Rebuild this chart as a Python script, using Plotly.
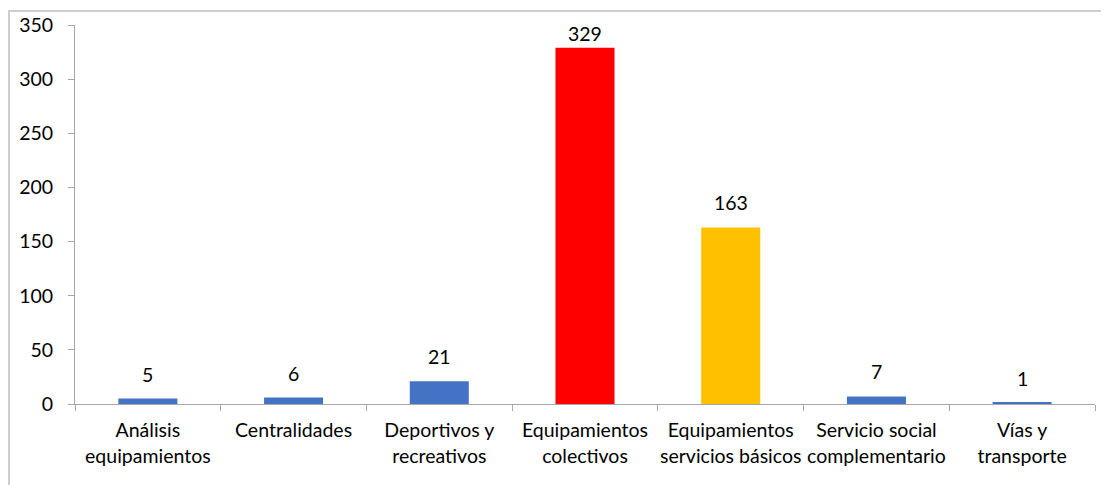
import plotly.graph_objects as go

categories = ["Análisis<br>equipamientos", "Centralidades", "Deportivos y<br>recreativos",
              "Equipamientos<br>colectivos", "Equipamientos<br>servicios básicos",
              "Servicio social<br>complementario", "Vías y<br>transporte"]
values = [5, 6, 21, 329, 163, 7, 1]
colors = ["#4472C4", "#4472C4", "#4472C4", "#FF0000", "#FFC000", "#4472C4", "#4472C4"]

OFF = 8  # browser body margin
W, H = 1109 - OFF, 485 - OFF
# absolute plot area in the window
PX0, PX1, PY0, PY1 = 75, 1095, 25, 404
pw, ph = PX1 - PX0, PY1 - PY0
L, T = PX0 - OFF, PY0 - OFF
R = W - (PX1 - OFF)
B = H - (PY1 - OFF)
YMAX = 350
FONT = "Lato, Liberation Sans, Arial, sans-serif"
FS = 19.5

fig = go.Figure(go.Bar(
    x=categories, y=values, marker=dict(color=colors, line=dict(width=0)),
    width=0.405, hoverinfo="x+y",
))

annotations = []
for c, v in zip(categories, values):
    top_px = PY1 - v / YMAX * ph
    shift = max(0, min(11, top_px - PY0 - 22))
    annotations.append(dict(x=c, y=v, text=str(v), showarrow=False, yanchor="bottom",
                            yshift=shift, font=dict(family=FONT, size=FS, color="#000000")))

fig.update_layout(
    width=W, height=H, margin=dict(l=L, r=R, t=T, b=B, autoexpand=False),
    paper_bgcolor="white", plot_bgcolor="white",
    font=dict(family=FONT, size=FS, color="#000000"),
    showlegend=False,
    annotations=annotations,
    xaxis=dict(showline=True, linecolor="#A6A6A6", linewidth=1, ticks="outside",
               tickson="boundaries", ticklen=6, tickcolor="#A6A6A6", tickangle=0,
               automargin=False, showgrid=False, tickfont=dict(size=FS),
               ticklabelstandoff=9),
    yaxis=dict(range=[0, YMAX], dtick=50, showline=True, linecolor="#A6A6A6", linewidth=1,
               ticks="outside", ticklen=6, tickcolor="#A6A6A6", showgrid=False,
               automargin=False, zeroline=False, tickfont=dict(size=FS), ticklabelstandoff=11),
    shapes=[dict(type="rect", xref="paper", yref="paper",
                 x0=(9 - PX0) / pw, x1=(1125 - PX0) / pw,
                 y0=(PY1 - 500) / ph, y1=(PY1 - 11) / ph,
                 line=dict(color="#BFBFBF", width=1.5), fillcolor="rgba(0,0,0,0)",
                 layer="below")],
)

fig.write_html("out.html")
